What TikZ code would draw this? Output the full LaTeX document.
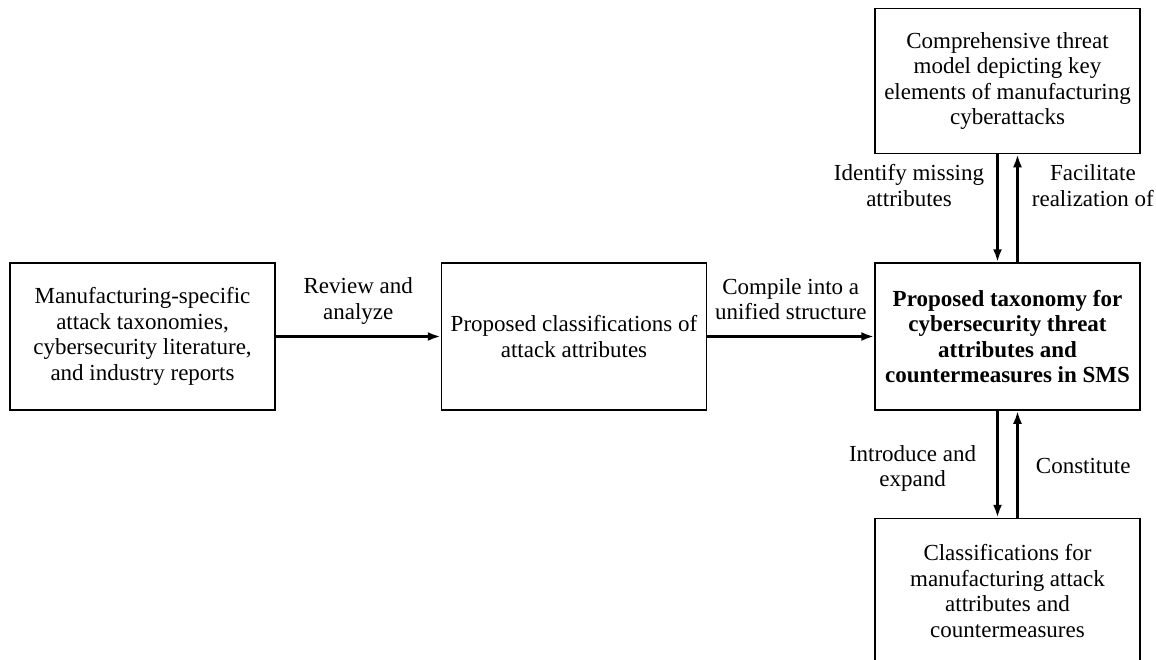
\documentclass[tikz,border=0pt]{standalone}
\usepackage{fontspec}
\setmainfont{Liberation Serif}
\usetikzlibrary{positioning,arrows.meta}
\tikzset{ %
  ,>={Latex[length=13pt,width=9pt]}
  ,every node/.style={font=\fontsize{23}{25.5}\selectfont}
  ,box/.style={draw, line width=1.5pt, minimum width=265pt, minimum height=147pt, align=center, inner sep=0}
  ,lbl/.style={align=center, inner sep=0}
  ,flow/.style={line width=2.8pt, ->}
}
\begin{document}
\begin{tikzpicture}[x=1pt, y=1pt]
      \useasboundingbox (0,0) rectangle (1156,-659);
      \draw 
      node[box] at (142.5,-336.5) (src) {Manufacturing-specific\\attack taxonomies,\\cybersecurity literature,\\and industry reports}
      node[box, right=165pt of src] (cls) {Proposed classifications of\\attack attributes}
      node[box, right=167pt of cls] (tax) {\textbf{Proposed taxonomy for}\\\textbf{cybersecurity threat}\\\textbf{attributes and}\\\textbf{countermeasures in SMS}}
      node[box, minimum height=145pt, above=108pt of tax] (thr) {Comprehensive threat\\model depicting key\\elements of manufacturing\\cyberattacks}
      node[box, minimum height=145pt, below=107pt of tax] (att) {Classifications for\\manufacturing attack\\attributes and\\countermeasures};
      \draw [flow] (src) -- node[lbl, above=11pt] {Review and\\analyze} (cls);
      \draw [flow] (cls) -- node[lbl, above=15pt] {Compile into a\\unified structure} (tax);
      \draw [flow] ([xshift=-10pt]thr.south) -- node[lbl, pos=0.29, left=12pt] {Identify missing\\attributes} ([xshift=-10pt]tax.north);
      \draw [flow] ([xshift=10pt]tax.north) -- node[lbl, pos=0.71, right=13pt] {Facilitate\\realization of} ([xshift=10pt]thr.south);
      \draw [flow] ([xshift=-10pt]tax.south) -- node[lbl, pos=0.54, left=20pt] {Introduce and\\expand} ([xshift=-10pt]att.north);
      \draw [flow] ([xshift=10pt]att.north) -- node[lbl, pos=0.48, right=17pt] {Constitute} ([xshift=10pt]tax.south);
    \end{tikzpicture}
\end{document}
